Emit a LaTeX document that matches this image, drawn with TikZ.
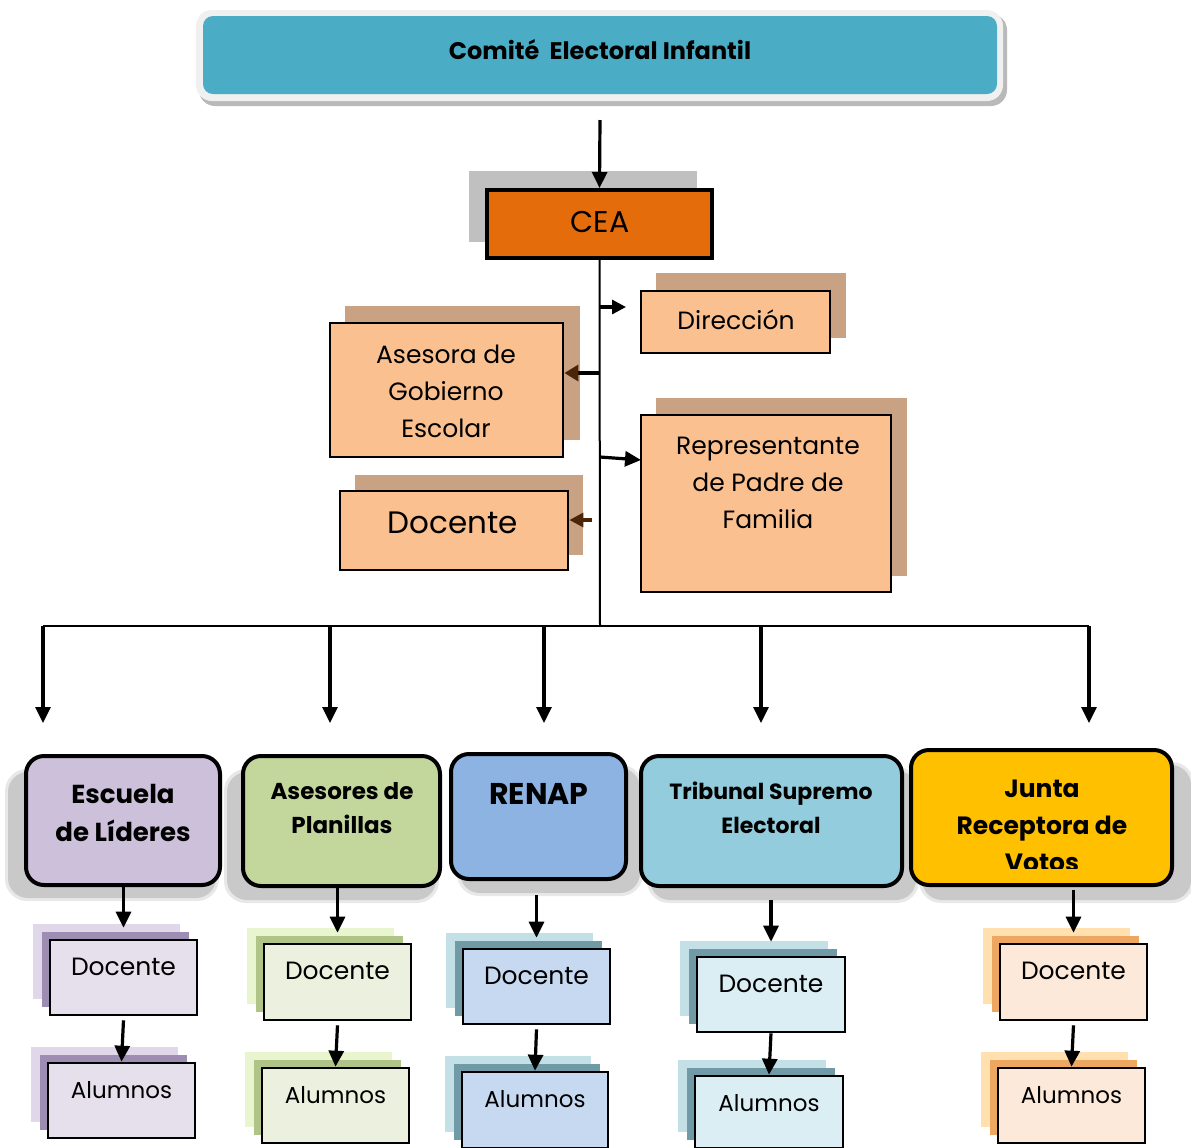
\documentclass[tikz,border=0pt]{standalone}
\usepackage{fontspec}
\setmainfont{Poppins}
\usetikzlibrary{arrows.meta,fit,calc}
\definecolor{titleteal}{HTML}{4BACC6}
\definecolor{ceaorange}{HTML}{E46C0A}
\definecolor{ceashadow}{HTML}{C0C0C0}
\definecolor{lorange}{HTML}{FAC090}
\definecolor{tan}{HTML}{C9A283}
\definecolor{headbrown}{HTML}{4A2508}
\definecolor{cEsc}{HTML}{CCC0DA}
\definecolor{cAse}{HTML}{C3D69B}
\definecolor{cRen}{HTML}{8DB3E2}
\definecolor{cTri}{HTML}{93CDDD}
\definecolor{cJun}{HTML}{FFC000}
\definecolor{fPur}{HTML}{E5E0EC}
\definecolor{lPur}{HTML}{E0D8EA}
\definecolor{dPur}{HTML}{9E8DB2}
\definecolor{fGre}{HTML}{EBF1DE}
\definecolor{lGre}{HTML}{E9F5CF}
\definecolor{dGre}{HTML}{B0C488}
\definecolor{fBlu}{HTML}{C6D9F1}
\definecolor{fLbl}{HTML}{DBEEF4}
\definecolor{lTea}{HTML}{C3E0E7}
\definecolor{dTea}{HTML}{6F9AA6}
\definecolor{fPea}{HTML}{FDE9D9}
\definecolor{lOra}{HTML}{FFE0AE}
\definecolor{dOra}{HTML}{EEA760}
\tikzset{
  arr/.style={line width=1.6pt,-{Triangle[length=8pt,width=7.5pt]}},
  trunk/.style={line width=1pt},
  smallbox/.style={draw=black,line width=1.3pt,inner sep=0pt},
  smalltxt/.style={font=\fontsize{12.5}{15}\selectfont},
  midbox/.style={draw=black,line width=1.4pt,fill=lorange,inner sep=0pt},
  midtxt/.style={font=\fontsize{12.5}{18.5}\selectfont,align=center},
  bigbox/.style={draw=black,line width=2pt,rounded corners=9pt,inner sep=0pt},
  bigtxt/.style={font=\bfseries\fontsize{12}{18.5}\selectfont,align=center},
}
\newcommand\mkSmallBox[9]{%
  \fill[#7] (#2-17,#3-16) rectangle (#4-17,#5-16);
  \fill[#8] (#2-8,#3-8) rectangle (#4-8,#5-8);
  \node[smallbox,fill=#6,fit={(#2,#3) (#4,#5)}] (#1) {};
  \node[smalltxt] (#1t) at ($(#1.north)+(0,28)$) {#9};
}
\newcommand\mkBigShadow[4]{%
  \fill[gray!18,rounded corners=11pt] (#1-3,#2-3) rectangle (#3+3,#4+3);
  \fill[gray!42,rounded corners=10pt] (#1,#2) rectangle (#3,#4);
}
\begin{document}
\begin{tikzpicture}[x=0.5pt,y=-0.5pt]
\useasboundingbox (0,0) rectangle (1191,1148);
% title
\fill[gray!55,rounded corners=8pt] (199,14) rectangle (1007,106);
\fill[gray!12,rounded corners=8pt] (196,10) rectangle (1003,101);
\node[fill=titleteal,rounded corners=5pt,inner sep=0pt,fit={(203,16) (997,94)}] (title) {};
\node[font=\bfseries\fontsize{12}{14}\selectfont] (titlet) at (600,50) {Comité\ \ Electoral Infantil};
% CEA
\fill[ceashadow] (469,171) rectangle (697,242);
\node[draw=black,line width=2pt,fill=ceaorange,inner sep=0pt,fit={(487,190) (712,258)}] (cea) {};
\node[font=\fontsize{15}{18}\selectfont] (ceat) at (600,222) {CEA};
\coordinate (topin) at (600,120);
\draw[arr] (topin) -- (cea.north);
% middle boxes
\fill[tan] (656,273) rectangle (846,338);
\node[midbox,fit={(641,291) (830,353)}] (dir) {};
\node[midtxt] (dirt) at (736,320) {Dirección};
\fill[tan] (345,306) rectangle (580,440);
\node[midbox,fit={(330,323) (563,457)}] (ases) {};
\node[midtxt] (asest) at (446,391) {Asesora de\\Gobierno\\Escolar};
\fill[tan] (355,475) rectangle (583,555);
\node[midbox,fit={(340,491) (568,570)}] (doc) {};
\node[midtxt,font=\fontsize{15.5}{18}\selectfont] (doct) at (453,523) {Docente};
\fill[tan] (656,398) rectangle (907,576);
\node[midbox,fit={(641,415) (891,592)}] (rep) {};
\node[midtxt] (rept) at (768,483) {Representante\\de Padre de\\Familia};
% trunk
\coordinate (hub) at (600,626);
\draw[trunk] (cea.south) -- (hub);
\coordinate (tDir) at (600,307);
\coordinate (tAse) at (600,373);
\coordinate (tDoc) at (592,520);
\coordinate (tRep) at (600,457);
\draw[line width=1.6pt,-{Triangle[length=7pt,width=7pt]}] (tDir) -- (626,307);
\draw[line width=1.8pt,-{Triangle[length=7pt,width=8pt,color=headbrown]}] (tAse) -- (ases.east |- tAse);
\draw[line width=1.6pt,headbrown,-{Triangle[length=7pt,width=7pt]}] (tDoc) -- (doc.east |- tDoc);
\draw[line width=1.6pt,-{Triangle[length=8pt,width=7.5pt]}] (tRep) -- (641,460);
% horizontal bar
\coordinate (hL) at (43,626);
\coordinate (hR) at (1089,626);
\draw[trunk] (hL) -- (hR);
\foreach \x/\n in {43/1,330/2,544/3,761/4,1089/5}{
  \coordinate (bt\n) at (\x,626);
  \coordinate (bb\n) at (\x,723);
  \draw[arr] (bt\n) -- (bb\n);
}
% big boxes
\mkBigShadow{8}{772}{216}{898}
\mkBigShadow{227}{772}{436}{900}
\mkBigShadow{460}{768}{640}{893}
\mkBigShadow{650}{770}{916}{900}
\mkBigShadow{922}{765}{1191}{900}
\node[bigbox,fill=cEsc,fit={(26,756) (220,885)}] (esc) {};
\node[bigtxt,font=\bfseries\fontsize{13}{19}\selectfont] (esct) at (123,813) {Escuela\\de Líderes};
\node[bigbox,fill=cAse,fit={(243,756) (440,886)}] (ase) {};
\node[bigtxt,font=\bfseries\fontsize{11.5}{17}\selectfont] (aset) at (342,808) {Asesores de\\Planillas};
\node[bigbox,fill=cRen,fit={(451,754) (626,879)}] (ren) {};
\node[bigtxt,font=\bfseries\fontsize{15}{18}\selectfont] (rent) at (539,794) {RENAP};
\node[bigbox,fill=cTri,fit={(641,756) (902,886)}] (tri) {};
\node[bigtxt,font=\bfseries\fontsize{11}{17}\selectfont] (trit) at (771,808) {Tribunal Supremo\\Electoral};
\node[bigbox,fill=cJun,fit={(911,750) (1172,885)}] (jun) {};
\begin{scope}
\clip (911,750) rectangle (1172,868);
\node[bigtxt,font=\bfseries\fontsize{12.5}{18.5}\selectfont] (junt) at (1042,826) {Junta\\Receptora de\\Votos};
\end{scope}
% small boxes
\mkSmallBox{d1}{50}{940}{197}{1015}{fPur}{lPur}{dPur}{Docente}
\mkSmallBox{a1}{48}{1063}{195}{1138}{fPur}{lPur}{dPur}{\fontsize{11.5}{14}\selectfont Alumnos}
\mkSmallBox{d2}{264}{944}{411}{1020}{fGre}{lGre}{dGre}{Docente}
\mkSmallBox{a2}{262}{1068}{409}{1143}{fGre}{lGre}{dGre}{\fontsize{11.5}{14}\selectfont Alumnos}
\mkSmallBox{d3}{463}{949}{610}{1024}{fBlu}{lTea}{dTea}{Docente}
\mkSmallBox{a3}{462}{1072}{608}{1148}{fBlu}{lTea}{dTea}{\fontsize{11.5}{14}\selectfont Alumnos}
\mkSmallBox{d4}{697}{957}{845}{1032}{fLbl}{lTea}{dTea}{Docente}
\mkSmallBox{a4}{695}{1076}{843}{1148}{fLbl}{lTea}{dTea}{\fontsize{11.5}{14}\selectfont Alumnos}
\mkSmallBox{d5}{1000}{944}{1147}{1020}{fPea}{lOra}{dOra}{Docente}
\mkSmallBox{a5}{998}{1068}{1145}{1143}{fPea}{lOra}{dOra}{\fontsize{11.5}{14}\selectfont Alumnos}
% connectors down
\draw[arr,shorten >=5.5pt] (esc.south -| d1.north) -- (d1.north);
\draw[arr,shorten >=5pt] (ase.south -| d2.north) -- (d2.north);
\draw[arr,shorten >=5pt] ($(ren.south -| d3.north)+(0,14)$) -- (d3.north);
\draw[arr,shorten >=7pt] ($(tri.south -| d4.north)+(0,12)$) -- (d4.north);
\draw[arr,shorten >=5pt] ($(jun.south -| d5.north)+(0,3)$) -- (d5.north);
\draw[arr] ($(d1.south)+(0,4)$) -- (a1.north);
\draw[arr] ($(d2.south)+(0,4)$) -- (a2.north);
\draw[arr] ($(d3.south)+(0,4)$) -- (a3.north);
\draw[arr] (d4.south) -- (a4.north);
\draw[arr] ($(d5.south)+(0,4)$) -- (a5.north);
\end{tikzpicture}
\end{document}
